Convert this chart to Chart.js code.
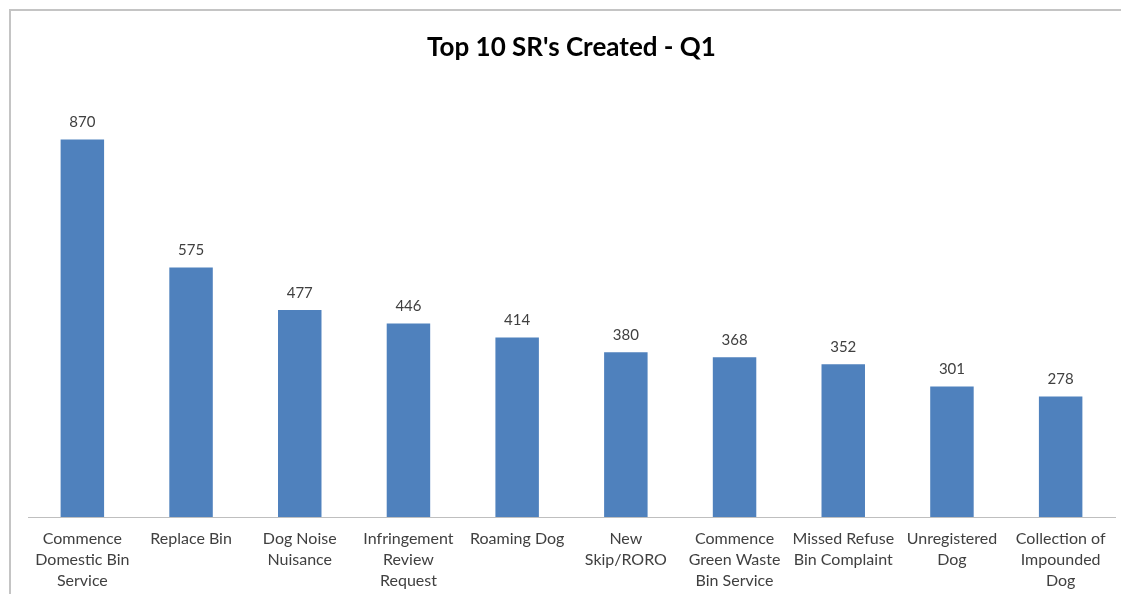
<!DOCTYPE html>
<html>
<head>
<meta charset="utf-8">
<script src="https://cdn.jsdelivr.net/npm/chart.js@4.4.1/dist/chart.umd.min.js"></script>
<style>
  html, body { margin: 0; padding: 0; background: #fff; }
  #frame {
    position: absolute; left: 9px; top: 9px; width: 1200px; height: 700px;
    border-left: 2px solid #c4c4c4; border-top: 2px solid #c4c4c4;
  }
  #wrap { position: absolute; left: 0; top: 0; width: 1121px; height: 594px; }
</style>
</head>
<body>
<div id="frame"></div>
<div id="wrap"><canvas id="chart" width="1121" height="594"></canvas></div>
<script>
// data
const categories = [
  ["Commence", "Domestic Bin", "Service"],
  ["Replace Bin"],
  ["Dog Noise", "Nuisance"],
  ["Infringement", "Review", "Request"],
  ["Roaming Dog"],
  ["New", "Skip/RORO"],
  ["Commence", "Green Waste", "Bin Service"],
  ["Missed Refuse", "Bin Complaint"],
  ["Unregistered", "Dog"],
  ["Collection of", "Impounded", "Dog"]
];
const srCounts = [870, 575, 477, 446, 414, 380, 368, 352, 301, 278];
const chartTitle = "Top 10 SR's Created - Q1";

// draws the value above each bar, using the bar positions chart.js computed
const valueLabels = {
  id: "valueLabels",
  afterDatasetsDraw(chart) {
    const ctx = chart.ctx;
    const meta = chart.getDatasetMeta(0);
    ctx.save();
    ctx.font = "15px Lato";
    ctx.fillStyle = "#404040";
    ctx.textAlign = "center";
    ctx.textBaseline = "middle";
    meta.data.forEach((bar, i) => {
      ctx.fillText(String(srCounts[i]), bar.x, bar.y - 17);
    });
    ctx.restore();
  }
};

const ctx = document.getElementById("chart").getContext("2d");
new Chart(ctx, {
  type: "bar",
  data: {
    labels: categories,
    datasets: [{
      data: srCounts,
      backgroundColor: "#4f81bd",
      borderWidth: 0,
      barPercentage: 0.4,
      categoryPercentage: 1.0
    }]
  },
  options: {
    responsive: false,
    animation: false,
    devicePixelRatio: 1,
    layout: { padding: { left: 28, right: 6, top: 0, bottom: 0 } },
    plugins: {
      legend: { display: false },
      tooltip: { enabled: false },
      title: {
        display: true,
        text: chartTitle,
        color: "#000",
        font: { family: "Lato", size: 26, weight: "bold" },
        padding: { top: 32, bottom: 20 }
      }
    },
    scales: {
      x: {
        grid: { display: false, drawTicks: false },
        border: { display: true, color: "#bfbfbf", width: 1 },
        ticks: {
          color: "#404040",
          font: { family: "Lato", size: 16, lineHeight: 1.32 },
          padding: 11,
          maxRotation: 0,
          autoSkip: false
        },
        afterFit(scale) { scale.height = 77; }
      },
      y: {
        display: false,
        min: 0,
        max: 1000
      }
    }
  },
  plugins: [valueLabels]
});
</script>
</body>
</html>
